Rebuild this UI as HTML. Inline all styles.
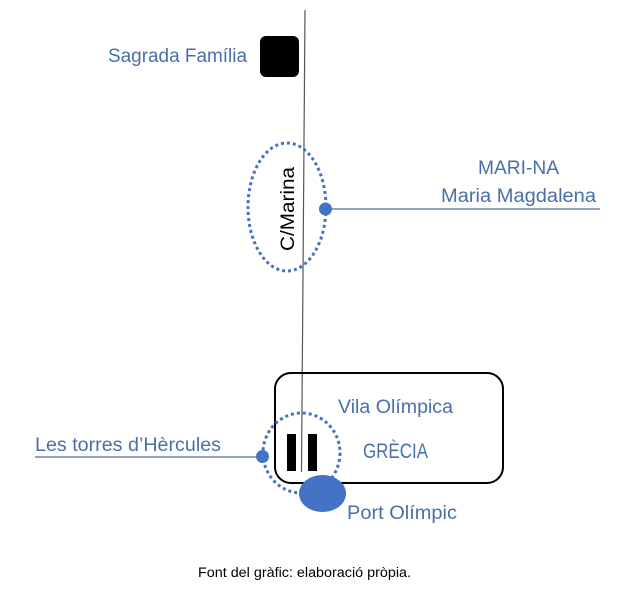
<!DOCTYPE html>
<html>
<head>
<meta charset="utf-8">
<style>
html,body{margin:0;padding:0;background:#fff;}
svg{display:block;}
text{font-family:"Liberation Sans",sans-serif;}
</style>
</head>
<body>
<svg width="638" height="589" viewBox="0 0 638 589" xmlns="http://www.w3.org/2000/svg">
  <rect width="638" height="589" fill="#fff"/>

  <!-- Sagrada Familia -->
  <rect x="260" y="36" width="39" height="41" rx="6" ry="6" fill="#000"/>
  <text x="108" y="62" font-size="19" fill="#4a6fa8" textLength="139" lengthAdjust="spacingAndGlyphs">Sagrada Família</text>

  <!-- main vertical line -->
  <line x1="305" y1="10" x2="301.5" y2="472" stroke="#555" stroke-width="1.2"/>

  <!-- C/Marina dotted ellipse -->
  <ellipse cx="287" cy="207" rx="39" ry="64" fill="none" stroke="#4472c4" stroke-width="3" stroke-dasharray="3 3"/>
  <text x="0" y="0" font-size="19" fill="#000" text-anchor="middle" textLength="84" lengthAdjust="spacingAndGlyphs" transform="translate(294,209) rotate(-90)">C/Marina</text>

  <!-- MARI-NA connector -->
  <line x1="326" y1="209" x2="600" y2="209" stroke="#4a6fa8" stroke-width="1.2"/>
  <circle cx="325.5" cy="209" r="6.5" fill="#4472c4"/>
  <text x="478" y="174" font-size="19" fill="#4a6fa8" textLength="81" lengthAdjust="spacingAndGlyphs">MARI-NA</text>
  <text x="441" y="202" font-size="19" fill="#4a6fa8" textLength="155" lengthAdjust="spacingAndGlyphs">Maria Magdalena</text>

  <!-- Vila Olimpica rounded rect -->
  <rect x="275" y="373" width="228" height="110" rx="16" ry="16" fill="none" stroke="#000" stroke-width="2"/>
  <text x="338" y="413" font-size="19" fill="#4a6fa8" textLength="115" lengthAdjust="spacingAndGlyphs">Vila Olímpica</text>
  <text x="363" y="458" font-size="21" fill="#4a6fa8" textLength="65" lengthAdjust="spacingAndGlyphs">GRÈCIA</text>

  <!-- dotted circle -->
  <ellipse cx="301.5" cy="453" rx="38.5" ry="40" fill="none" stroke="#4472c4" stroke-width="3" stroke-dasharray="3 3"/>

  <!-- twin towers -->
  <rect x="287" y="434" width="9" height="37" fill="#000"/>
  <rect x="308" y="434" width="9" height="37" fill="#000"/>

  <!-- Les torres connector -->
  <line x1="35" y1="457" x2="262" y2="457" stroke="#4a6fa8" stroke-width="1.2"/>
  <circle cx="262.5" cy="456.5" r="6.5" fill="#4472c4"/>
  <text x="35" y="451" font-size="19" fill="#4a6fa8" textLength="186" lengthAdjust="spacingAndGlyphs">Les torres d’Hèrcules</text>

  <!-- Port Olimpic -->
  <ellipse cx="322.5" cy="493.5" rx="23.5" ry="18.5" fill="#4472c4"/>
  <text x="347" y="519" font-size="19" fill="#4a6fa8" textLength="110" lengthAdjust="spacingAndGlyphs">Port Olímpic</text>

  <!-- caption -->
  <text x="198" y="577" font-size="13.5" fill="#000" textLength="213" lengthAdjust="spacingAndGlyphs">Font del gràfic: elaboració pròpia.</text>
</svg>
</body>
</html>
